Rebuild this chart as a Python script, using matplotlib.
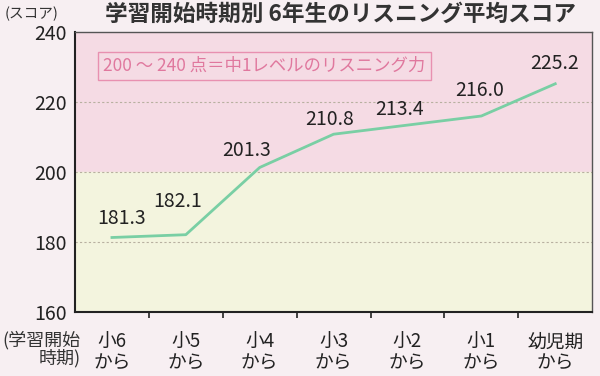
import matplotlib.pyplot as plt
import numpy as np

plt.rcParams['font.family'] = ['Noto Sans CJK JP', 'DejaVu Sans']

# データ
categories = ['小6\nから', '小5\nから', '小4\nから', '小3\nから', '小2\nから', '小1\nから', '幼児期\nから']
scores = [181.3, 182.1, 201.3, 210.8, 213.4, 216.0, 225.2]
y_ticks = [160, 180, 200, 220, 240]

# ラベルの位置ずれ (pixels, 点からラベル中心まで)
label_offsets = [(10, 19), (-8, 33), (-13, 17), (-4, 15), (-8, 16), (-2, 25), (-1, 20)]

fig = plt.figure(figsize=(6, 3.76), dpi=100, facecolor='#f7eff2')
ax = fig.add_axes([0.125, 0.170, 0.862, 0.745])

x = np.arange(len(categories))
ax.set_xlim(-0.5, len(categories) - 0.5)
ax.set_ylim(160, 240)

# 背景の帯
ax.axhspan(200, 240, color='#f5dbe4', zorder=0)
ax.axhspan(160, 200, color='#f3f4de', zorder=0)
for v in [180, 200, 220]:
    ax.axhline(v, color='#b8b0a0', linestyle=(0, (2, 2)), linewidth=0.8, zorder=1)

ax.plot(x, scores, color='#79cfa4', linewidth=2, zorder=3)

for xi, s, (dx, dy) in zip(x, scores, label_offsets):
    ax.annotate(f'{s:.1f}', (xi, s), xytext=(dx * 0.72, dy * 0.72), textcoords='offset points',
                ha='center', va='center', fontsize=14, color='#222222')

ax.set_yticks(y_ticks)
ax.set_yticklabels([str(v) for v in y_ticks], fontsize=14, color='#222222')
ax.set_xticks(x)
ax.set_xticklabels(categories, fontsize=13.5, color='#222222', linespacing=1.0)
ax.set_xticks(np.arange(0.5, len(categories) - 1, 1), minor=True)
ax.tick_params(axis='x', which='major', length=0, pad=14)
ax.tick_params(axis='x', which='minor', length=4, width=1.2, direction='out', color='#222222')
ax.tick_params(axis='y', length=0, pad=6)

for side in ['left', 'bottom']:
    ax.spines[side].set_linewidth(1.5)
    ax.spines[side].set_color('#222222')
for side in ['top', 'right']:
    ax.spines[side].set_linewidth(1.0)
    ax.spines[side].set_color('#555555')

# 注記ボックス
ax.text(0.055, 0.879, '200 〜 240 点＝中1レベルのリスニング力', transform=ax.transAxes,
        fontsize=12.5, color='#e0789e', va='center', ha='left',
        bbox=dict(boxstyle='square,pad=0.3', facecolor='none', edgecolor='#e890b0', linewidth=1))

fig.text(0.567, 0.962, '学習開始時期別 6年生のリスニング平均スコア', fontsize=16.3, fontweight='bold',
         color='#333333', ha='center', va='center')
fig.text(0.008, 0.962, '(スコア)', fontsize=10.5, color='#333333', ha='left', va='center')
fig.text(0.134, 0.071, '(学習開始\n時期)', fontsize=13, color='#333333', ha='right', va='center',
         linespacing=1.0)

fig.savefig('out.png', dpi=100, facecolor=fig.get_facecolor())
